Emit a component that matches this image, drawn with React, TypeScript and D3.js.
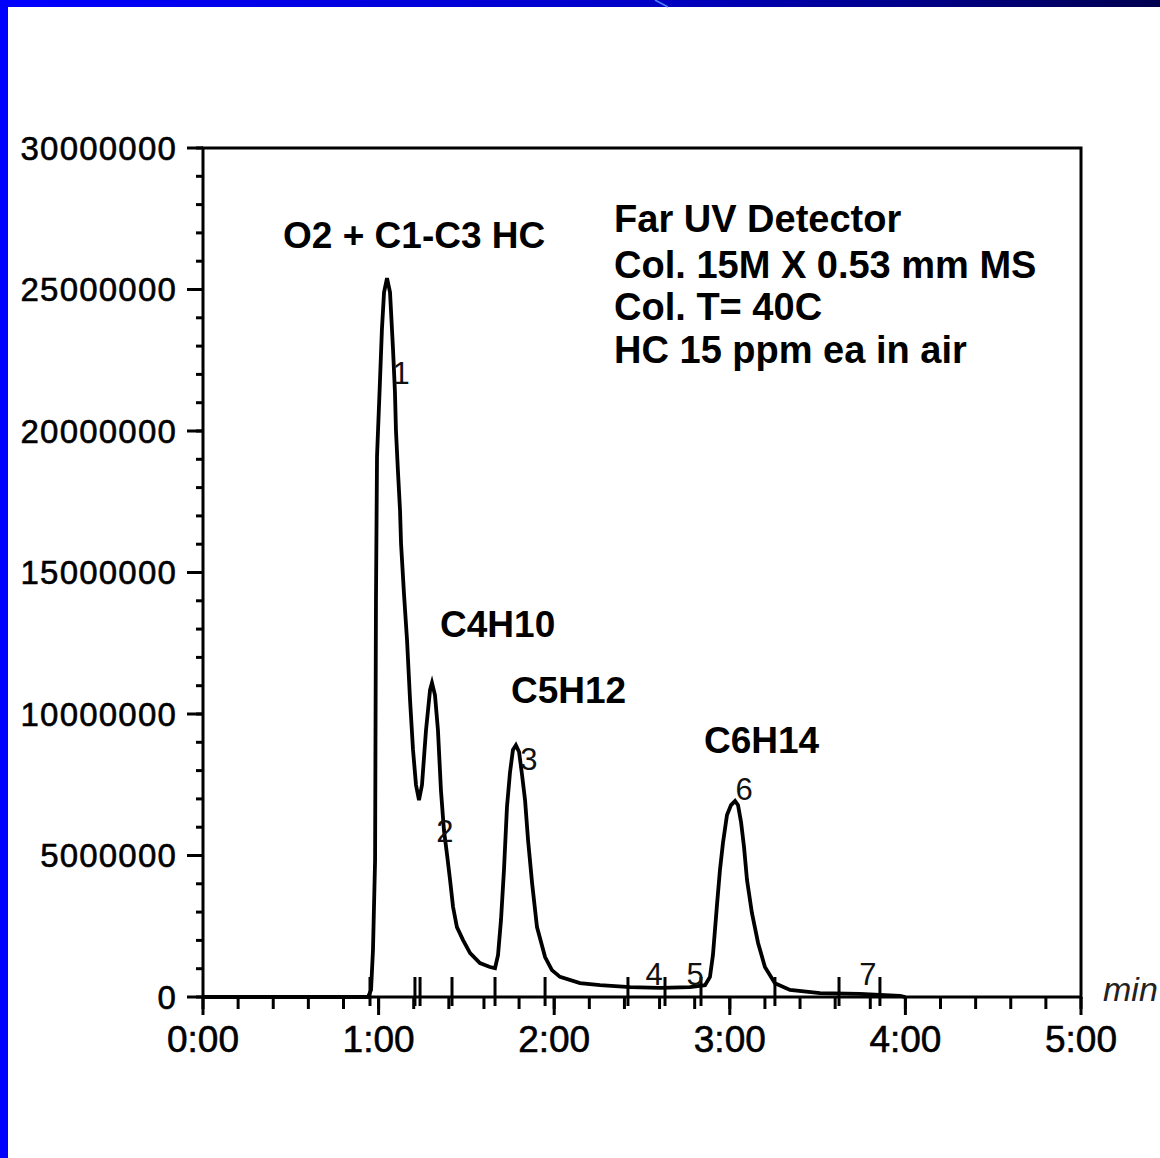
import React from "react";
import * as d3 from "d3";

// chromatogram trace: retention time (min) and detector signal (counts)
const times = [
  0, 0.94, 0.957, 0.968, 0.98, 0.985, 0.991, 1.008, 1.019, 1.031, 1.048, 1.065, 1.071, 1.082,
  1.093, 1.099, 1.11, 1.122, 1.128, 1.145, 1.162, 1.179, 1.196, 1.213, 1.23, 1.247, 1.27,
  1.293, 1.304, 1.321, 1.338, 1.355, 1.372, 1.39, 1.407, 1.424, 1.446, 1.481, 1.521, 1.577,
  1.634, 1.663, 1.68, 1.697, 1.714, 1.731, 1.748, 1.765, 1.782, 1.8, 1.817, 1.834, 1.851,
  1.874, 1.902, 1.948, 1.987, 2.033, 2.147, 2.261, 2.432, 2.603, 2.773, 2.859, 2.887, 2.904,
  2.927, 2.944, 2.961, 2.984, 3.007, 3.03, 3.047, 3.064, 3.081, 3.098, 3.126, 3.161, 3.2,
  3.257, 3.343, 3.514, 3.741, 3.969, 4.0,
];
const signal = [
  0, 0, 0.25e6, 1.66e6, 4.84e6, 14.0e6, 19.1e6, 21.8e6, 23.6e6, 24.9e6, 25.4e6, 24.9e6, 24.2e6,
  22.9e6, 21.4e6, 20.0e6, 18.6e6, 17.2e6, 16.0e6, 14.2e6, 12.6e6, 10.5e6, 8.73e6, 7.49e6,
  6.96e6, 7.49e6, 9.43e6, 10.85e6, 11.1e6, 10.67e6, 9.43e6, 7.31e6, 5.9e6, 5.02e6, 4.13e6,
  3.18e6, 2.47e6, 2.01e6, 1.55e6, 1.2e6, 1.06e6, 1.02e6, 1.48e6, 2.72e6, 4.49e6, 6.71e6,
  7.92e6, 8.73e6, 8.9e6, 8.66e6, 7.84e6, 6.96e6, 5.55e6, 4.03e6, 2.47e6, 1.41e6, 0.95e6,
  0.71e6, 0.49e6, 0.42e6, 0.35e6, 0.32e6, 0.35e6, 0.42e6, 0.71e6, 1.48e6, 3.25e6, 4.49e6,
  5.44e6, 6.43e6, 6.78e6, 6.93e6, 6.78e6, 6.18e6, 5.3e6, 4.13e6, 2.97e6, 1.91e6, 1.06e6,
  0.49e6, 0.25e6, 0.14e6, 0.11e6, 0.04e6, 0,
];

// integration event marks on the baseline
const eventTimes = [0.951, 1.207, 1.236, 1.418, 1.663, 1.948, 2.42, 2.631, 2.836, 3.257, 3.622, 3.855];

// peak numbers
const peakNums = ["1", "2", "3", "4", "5", "6", "7"];
const peakNumT = [1.128, 1.378, 1.856, 2.569, 2.802, 3.081, 3.787];
const peakNumV = [21.66e6, 5.48e6, 8.02e6, 0.42e6, 0.42e6, 6.97e6, 0.42e6];

// compound labels
const compounds = ["O2 + C1-C3 HC", "C4H10", "C5H12", "C6H14"];
const compoundT = [0.456, 1.35, 1.754, 2.853];
const compoundV = [26.47e6, 12.72e6, 10.39e6, 8.62e6];

// method notes
const notes = ["Far UV Detector", "Col. 15M X 0.53 mm MS", "Col. T= 40C", "HC 15 ppm ea in air"];
const noteV = [27.03e6, 25.41e6, 23.92e6, 22.4e6];
const noteT = 2.341;

const yTicks = [0, 5e6, 10e6, 15e6, 20e6, 25e6, 30e6];
const xTicks = [0, 1, 2, 3, 4, 5];
const xTickLabels = ["0:00", "1:00", "2:00", "3:00", "4:00", "5:00"];

const W = 1160;
const H = 1158;
const left = 203, right = 1081, top = 148, bottom = 997;

export default function App() {
  const x = d3.scaleLinear().domain([0, 5]).range([left, right]);
  const y = d3.scaleLinear().domain([0, 30e6]).range([bottom, top]);

  const pts = times.map((t, i) => [t, signal[i]] as [number, number]);
  const line = d3
    .line<[number, number]>()
    .x((d) => x(d[0]))
    .y((d) => y(d[1]));

  const yMinor = d3.range(0, 30e6 + 1, 1e6);
  const xMinor = d3.range(0, 5.001, 0.2);
  const font = "'Liberation Sans', Arial, sans-serif";

  return (
    <svg
      width={W}
      height={H}
      style={{ position: "absolute", left: 0, top: 0, background: "#fff" }}
      fontFamily={font}
    >
      <defs>
        <linearGradient id="topband" x1="0" x2="1" y1="0" y2="0">
          <stop offset="0" stopColor="#0000ff" />
          <stop offset="0.55" stopColor="#0000c8" />
          <stop offset="1" stopColor="#000050" />
        </linearGradient>
      </defs>
      <rect x={0} y={0} width={W} height={7} fill="url(#topband)" />
      <line x1={655} y1={0} x2={668} y2={7} stroke="#5080ff" strokeWidth={1.5} />
      <rect x={0} y={0} width={8} height={H} fill="#0000ff" />

      {/* frame */}
      <rect x={left} y={top} width={right - left} height={bottom - top} fill="none" stroke="#000" strokeWidth={3} />

      {/* y ticks */}
      {yMinor.map((v) => (
        <line key={"ym" + v} x1={left - 7} x2={left} y1={y(v)} y2={y(v)} stroke="#000" strokeWidth={3} />
      ))}
      {yTicks.map((v) => (
        <g key={"y" + v}>
          <line x1={left - 16} x2={left} y1={y(v)} y2={y(v)} stroke="#000" strokeWidth={3} />
          <text
            x={left - 26}
            y={y(v)}
            dy="0.36em"
            textAnchor="end"
            fontSize={33}
            letterSpacing={1.2}
            fill="#000"
            stroke="#000"
            strokeWidth={0.6}
          >
            {String(v)}
          </text>
        </g>
      ))}

      {/* x ticks */}
      {xMinor.map((t) => (
        <line key={"xm" + t} x1={x(t)} x2={x(t)} y1={bottom} y2={bottom + 12} stroke="#000" strokeWidth={3} />
      ))}
      {xTicks.map((t, i) => (
        <g key={"x" + t}>
          <line x1={x(t)} x2={x(t)} y1={bottom} y2={bottom + 18} stroke="#000" strokeWidth={3} />
          <text
            x={x(t)}
            y={bottom + 55}
            textAnchor="middle"
            fontSize={37}
            fill="#000"
            stroke="#000"
            strokeWidth={0.6}
          >
            {xTickLabels[i]}
          </text>
        </g>
      ))}
      <text x={right + 22} y={bottom + 4} fontSize={34} fontStyle="italic" fill="#222">
        min
      </text>

      {/* event marks */}
      {eventTimes.map((t) => (
        <line key={"e" + t} x1={x(t)} x2={x(t)} y1={bottom - 20} y2={bottom + 9} stroke="#000" strokeWidth={3} />
      ))}

      {/* trace */}
      <path d={line(pts) || ""} fill="none" stroke="#000" strokeWidth={3.8} strokeLinejoin="miter" />

      {/* peak numbers */}
      {peakNums.map((n, i) => (
        <text key={"p" + n} x={x(peakNumT[i])} y={y(peakNumV[i])} textAnchor="middle" fontSize={31} fill="#111">
          {n}
        </text>
      ))}

      {/* compound labels */}
      {compounds.map((c, i) => (
        <text key={c} x={x(compoundT[i])} y={y(compoundV[i])} fontSize={37} fontWeight="bold" fill="#000">
          {c}
        </text>
      ))}

      {notes.map((n, i) => (
        <text key={n} x={x(noteT)} y={y(noteV[i])} fontSize={38} fontWeight="bold" fill="#000">
          {n}
        </text>
      ))}
    </svg>
  );
}
